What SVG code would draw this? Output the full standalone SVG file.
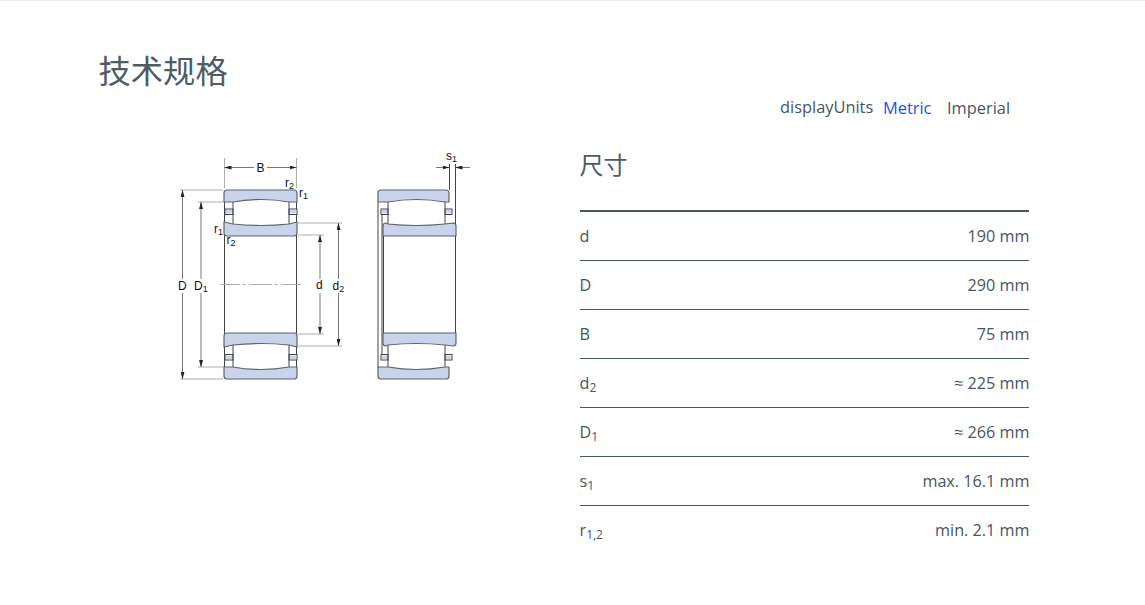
<svg xmlns="http://www.w3.org/2000/svg" width="1145" height="605" viewBox="0 0 1145 605">
<style>
.t{font-family:"Open Sans","Noto Sans",sans-serif;font-size:16.200px;fill:#485660}
.u{font-size:16.400px}
.r{text-anchor:end}
.h{font-family:"Noto Sans CJK SC",sans-serif;fill:#4f5c66}
.rule{stroke:#485660;stroke-width:1;fill:none}
.ring{fill:#c9d4ec;stroke:#5f6468;stroke-width:1.200}
.rol{fill:#fff;stroke:#444;stroke-width:1}
.ln{fill:none;stroke:#444;stroke-width:1}
.dim{fill:none;stroke:#555;stroke-width:.8}
.ext{fill:none;stroke:#a5a5a5;stroke-width:.9}
.l{font-family:"Liberation Sans",Arial,sans-serif;font-size:12px;fill:#111}
.s{font-size:9px}
</style>
<defs>
<marker id="a" viewBox="0 0 7 4" refX="7" refY="2" markerWidth="7" markerHeight="4" orient="auto-start-reverse" markerUnits="userSpaceOnUse"><path d="M0 0L7 2L0 4z" fill="#222"/></marker>
<g id="lh">
<rect class="rol" x="225" y="209" width="8" height="5.500"/>
<rect x="226" y="210" width="6" height="3.500" fill="#c9d4ec"/>
<rect class="rol" x="289" y="209" width="8" height="5.500"/>
<rect x="290" y="210" width="6" height="3.500" fill="#c9d4ec"/>
<path class="ln" d="M233 202V224M289 202V224"/>
<path class="ring" d="M227 190H294Q297 190 297 193V202L289 202Q261 197 233 202L224 202V193Q224 190 227 190Z"/>
<path class="ring" d="M224 222L233 224Q261 227 289 224L297 222V233Q297 236 294 236H227Q224 236 224 233Z"/>
</g>
<g id="rh">
<rect class="rol" x="381" y="209" width="7" height="5.500"/>
<rect x="382" y="210" width="5" height="3.500" fill="#c9d4ec"/>
<rect class="rol" x="445" y="209" width="7" height="5.500"/>
<rect x="446" y="210" width="5" height="3.500" fill="#c9d4ec"/>
<path class="ln" d="M388 202V224M445 202V224"/>
<path class="ring" d="M381 190H446Q449 190 449 193V202L445 202Q416 197 388 202L378 202V193Q378 190 381 190Z"/>
<path class="ring" d="M386 223L388 224Q416 227 445 224L453 223Q456 223 456 226V236H383V226Q383 223 386 223Z"/>
</g>
</defs>
<rect width="1145" height="605" fill="#fff"/>
<rect width="1145" height="1" fill="#eee"/>
<g id="heading"><text class="h" x="98.500" y="83" font-size="32.300">技术规格</text></g>
<g id="units">
<text class="t u" x="780" y="113">displayUnits</text>
<text class="t u" x="883" y="114" style="fill:#1259d2">Metric</text>
<text class="t u" x="947" y="114">Imperial</text>
</g>
<g id="bearing-section">
<path class="ln" d="M224.500 192V377M296.500 192V377"/>
<use href="#lh"/>
<use href="#lh" transform="matrix(1 0 0 -1 0 569)"/>
</g>
<g id="bearing-side">
<path class="ln" d="M378 202V368M382 214V355M383.500 236V333M455.500 236V333"/>
<use href="#rh"/>
<use href="#rh" transform="matrix(1 0 0 -1 0 569)"/>
</g>
<g id="connectors">
<path class="ext" d="M224.500 158V188M296.500 158V188M180 190H223M198 202H224M180 379H223M198 367H224M298 223H342M298 235H324M298 334H324M298 346H342"/>
<path class="ext" d="M220 284.500H240M243 284.500H246M249 284.500H272M275 284.500H278M281 284.500H301"/>
<path class="dim" marker-start="url(#a)" d="M224.500 167.500H254"/>
<path class="dim" marker-end="url(#a)" d="M267 167.500H296.500"/>
<path class="dim" marker-start="url(#a)" d="M182.500 190V279"/>
<path class="dim" marker-end="url(#a)" d="M182.500 293V379"/>
<path class="dim" marker-start="url(#a)" d="M201 202V279"/>
<path class="dim" marker-end="url(#a)" d="M201 293V367"/>
<path class="dim" marker-start="url(#a)" d="M320 235V279"/>
<path class="dim" marker-end="url(#a)" d="M320 293V334"/>
<path class="dim" marker-start="url(#a)" d="M338.500 223V279"/>
<path class="dim" marker-end="url(#a)" d="M338.500 293V346"/>
<path class="ln" d="M449.500 164V190M455.500 164V224"/>
<path class="dim" marker-end="url(#a)" d="M436 167.500H449.500"/>
<path class="dim" marker-end="url(#a)" d="M470 167.500H455.500"/>
</g>
<g id="drawing-labels">
<text class="l" x="256.500" y="172">B</text>
<text class="l" x="285" y="187">r<tspan class="s" dy="2">2</tspan></text>
<text class="l" x="299" y="197">r<tspan class="s" dy="2">1</tspan></text>
<text class="l" x="214" y="233">r<tspan class="s" dy="2">1</tspan></text>
<text class="l" x="226.500" y="244">r<tspan class="s" dy="2">2</tspan></text>
<text class="l" x="178" y="290">D</text>
<text class="l" x="194" y="290">D<tspan class="s" dy="2">1</tspan></text>
<text class="l" x="316" y="289">d</text>
<text class="l" x="332.500" y="290">d<tspan class="s" dy="2">2</tspan></text>
<text class="l" x="446" y="160">s<tspan class="s" dy="2">1</tspan></text>
</g>
<g id="table">
<text class="h" x="579.500" y="174" font-size="24">尺寸</text>
<path class="rule" style="stroke-width:2" d="M580 211H1029"/>
<path class="rule" d="M580 260.500H1029M580 309.500H1029M580 358.500H1029M580 407.500H1029M580 456.500H1029M580 505.500H1029"/>
<text class="t" x="579.500" y="242">d</text><text class="t r" x="1029.500" y="242">190 mm</text>
<text class="t" x="579.500" y="291">D</text><text class="t r" x="1029.500" y="291">290 mm</text>
<text class="t" x="579.500" y="340">B</text><text class="t r" x="1029.500" y="340">75 mm</text>
<text class="t" x="579.500" y="389">d<tspan font-size="12" dy="3">2</tspan></text><text class="t r" x="1029.500" y="389">≈ 225 mm</text>
<text class="t" x="579.500" y="438">D<tspan font-size="12" dy="3">1</tspan></text><text class="t r" x="1029.500" y="438">≈ 266 mm</text>
<text class="t" x="579.500" y="487">s<tspan font-size="12" dy="3">1</tspan></text><text class="t r" x="1029.500" y="487">max. 16.1 mm</text>
<text class="t" x="579.500" y="536">r<tspan font-size="12" dy="3">1,2</tspan></text><text class="t r" x="1029.500" y="536">min. 2.1 mm</text>
</g>
</svg>
